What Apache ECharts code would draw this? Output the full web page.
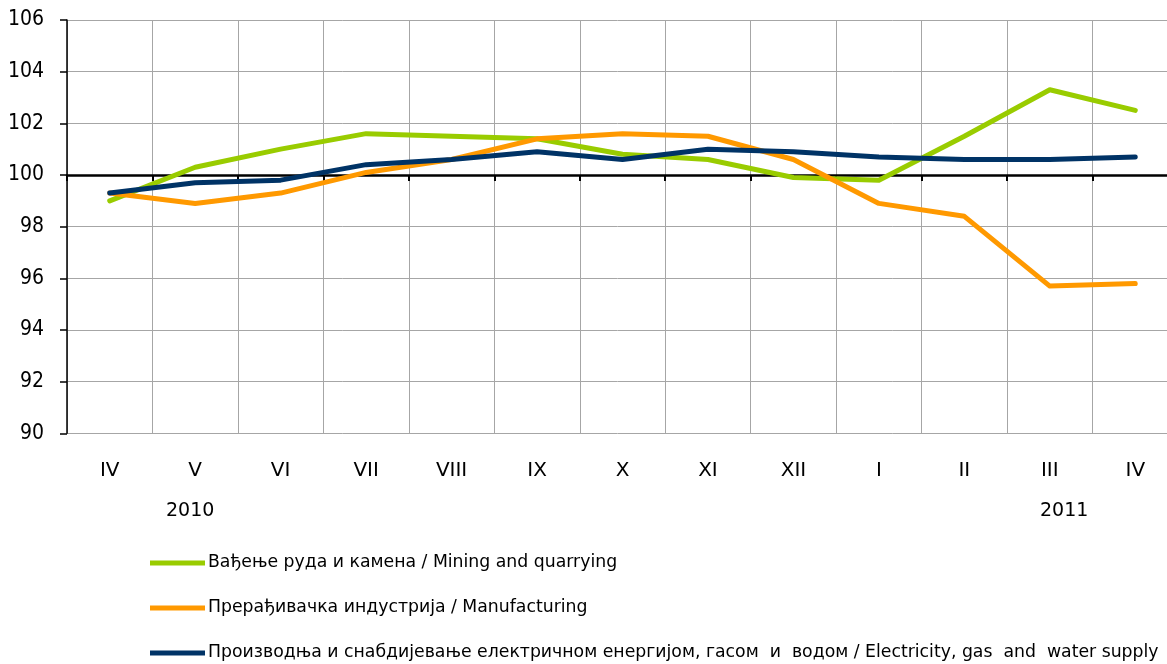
<!DOCTYPE html>
<html>
<head>
<meta charset="utf-8">
<script src="https://cdn.jsdelivr.net/npm/echarts@6/dist/echarts.min.js"></script>
<style>html,body{margin:0;padding:0;background:#fff;overflow:hidden;}#c{width:1167px;height:664px;}</style>
</head>
<body>
<div id="c"></div>
<script>
var categories = ['IV','V','VI','VII','VIII','IX','X','XI','XII','I','II','III','IV'];
var yearLabels = ['2010','2011'];
var seriesNames = [
  'Вађење руда и камена / Mining and quarrying',
  'Прерађивачка индустрија / Manufacturing',
  'Производња и снабдијевање електричном енергијом, гасом  и  водом / Electricity, gas  and  water supply'
];
var mining = [99.0, 100.3, 101.0, 101.6, 101.5, 101.4, 100.8, 100.6, 99.9, 99.8, 101.5, 103.3, 102.5];
var manufacturing = [99.3, 98.9, 99.3, 100.1, 100.6, 101.4, 101.6, 101.5, 100.6, 98.9, 98.4, 95.7, 95.8];
var electricity = [99.3, 99.7, 99.8, 100.4, 100.6, 100.9, 100.6, 101.0, 100.9, 100.7, 100.6, 100.6, 100.7];
var yMin = 90, yMax = 106, yStep = 2, baseline = 100;

var FONT = '"DejaVu Sans Condensed", "DejaVu Sans"';
var FONT2 = 'DejaVu Sans';
var chart = echarts.init(document.getElementById('c'), null, {renderer:'canvas'});
var gridTop = 20, gridH = 413.3;
var baseOffset = -gridH * (baseline - yMin) / (yMax - yMin);
var colors = ['#99CC00', '#FF9900', '#003366'];
var vals = [mining, manufacturing, electricity];
var legendTops = [553, 598, 643];

chart.setOption({
  animation: false,
  backgroundColor: '#fff',
  grid: {left: 67, top: gridTop, width: 1111, height: gridH, containLabel: false, outerBoundsMode: 'none'},
  xAxis: [{
    type: 'category', data: categories, position: 'bottom',
    axisLine: {show: false}, axisTick: {show: false},
    axisLabel: {color: '#000', fontFamily: FONT2, fontSize: 20, margin: 27},
    splitLine: {show: true, lineStyle: {color: '#a6a6a6', width: 1}}
  }, {
    type: 'category', data: categories, position: 'bottom', offset: baseOffset,
    axisLine: {show: true, lineStyle: {color: '#000', width: 2.5}},
    axisTick: {show: true, length: 6, lineStyle: {color: '#000', width: 2}},
    axisLabel: {show: false}, splitLine: {show: false}
  }],
  yAxis: {
    type: 'value', min: yMin, max: yMax, interval: yStep,
    axisLine: {show: true, lineStyle: {color: '#000', width: 1.5}},
    axisTick: {show: true, length: 7, lineStyle: {color: '#000', width: 1.5}},
    axisLabel: {color: '#000', fontFamily: FONT, fontSize: 21, margin: 23},
    splitLine: {show: true, lineStyle: {color: '#a6a6a6', width: 1}}
  },
  legend: seriesNames.map(function(n, i){
    return {
      orient: 'vertical', left: 150, top: legendTops[i], padding: 0,
      itemWidth: 55, itemHeight: 5, icon: 'rect',
      textStyle: {color: '#000', fontFamily: FONT2, fontSize: 17.3, lineHeight: 20, padding: [0,0,0,-2]},
      data: [n]
    };
  }),
  graphic: [
    {type: 'text', left: 166, top: 502, style: {text: yearLabels[0], fill: '#000', font: '19px "DejaVu Sans"'}},
    {type: 'text', left: 1040, top: 502, style: {text: yearLabels[1], fill: '#000', font: '19px "DejaVu Sans"'}}
  ],
  series: vals.map(function(v, i){
    return {
      name: seriesNames[i], type: 'line', data: v, xAxisIndex: 0,
      symbol: 'none', smooth: false,
      lineStyle: {color: colors[i], width: 5, cap: 'round', join: 'round'},
      itemStyle: {color: colors[i]}
    };
  })
});
</script>
</body>
</html>
